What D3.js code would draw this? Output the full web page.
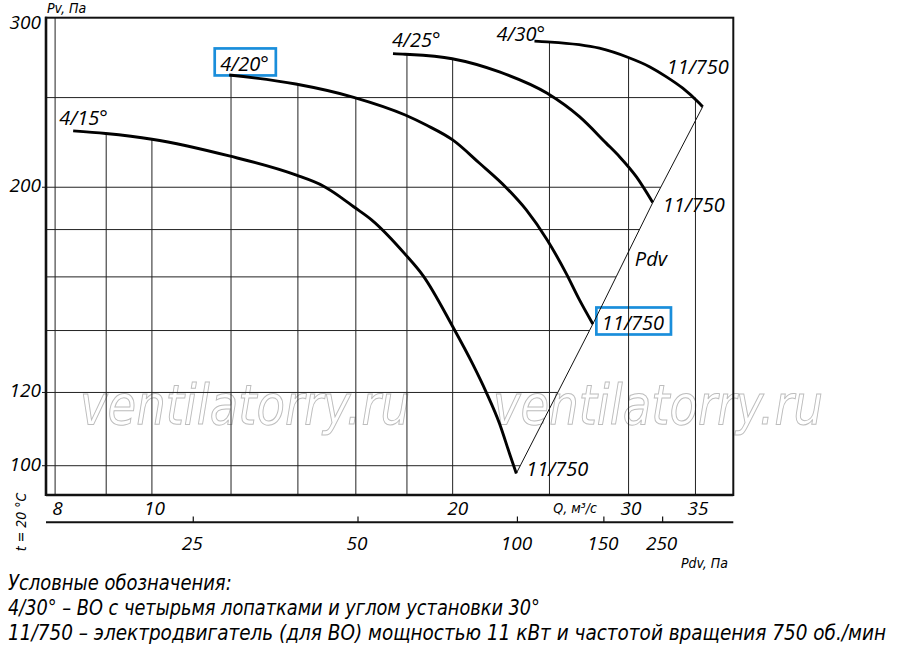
<!DOCTYPE html>
<html><head><meta charset="utf-8">
<script src="https://cdn.jsdelivr.net/npm/d3@7"></script>
<style>body{margin:0;background:#fff}svg{display:block}</style>
</head><body>
<svg id="c" width="900" height="654"></svg>
<script>
// ---------- data ----------
const qTicks = [8, 10, 20, 30, 35];
const qGrid = [8, 9, 10, 12, 14, 16, 18, 20, 25, 30, 35];
const pTicks = [100, 120, 200, 300];
const pGrid = [100, 120, 140, 160, 180, 200, 250];
const pdvTicks = [25, 50, 100, 150, 250];
const pdvAtQ = [11.0, 16.08, 23.22, 28.34, 32.45];
const curveNames = ["4/15°", "4/20°", "4/25°", "4/30°"];
const motorLabel = "11/750";
const curve415 = [[8.34,230.1],[8.99,228.6],[10.0,225.4],[11.95,216.2],[13.93,206.2],[14.84,200.6],[15.42,195.4],[15.92,190.5],[16.59,184.4],[17.95,169.0],[18.68,160.5],[20.0,141.4],[20.96,128.6],[21.6,120.2],[22.28,111.1],[22.8,103.1],[23.16,98.1]];
const curve420 = [[11.95,264.5],[13.93,258.6],[15.92,250.2],[17.93,239.4],[18.82,233.5],[20.0,225.0],[21.28,212.3],[22.63,199.8],[23.7,189.0],[24.87,175.4],[25.98,161.4],[26.79,151.1],[27.63,142.3]];
const curve425 = [[17.43,278.9],[17.92,278.5],[19.98,275.4],[22.28,266.5],[24.87,252.7],[26.79,238.4],[28.49,223.2],[29.38,215.8],[30.55,205.2],[31.72,192.5]];
const curve430 = [[24.15,287.7],[24.87,287.2],[28.05,282.7],[29.94,276.4],[31.48,270.0],[32.71,263.4],[33.99,255.9],[35.32,246.5],[35.59,244.4]];
const legendLines = [
  "Условные обозначения:",
  "4/30° – ВО с четырьмя лопатками и углом установки 30°",
  "11/750 – электродвигатель (для ВО) мощностью 11 кВт и частотой вращения 750 об./мин"
];
const watermark = "ventilatorry.ru";

// ---------- layout ----------
const svg = d3.select("#c");
const X0 = 46, X1 = 733.3, Y0 = 17.7, Y1 = 495;
const x = d3.scaleLog().domain([7.834, 38.19]).range([X0, X1]);
const y = d3.scaleLog().domain([92.97, 305.0]).range([Y1, Y0]);
const pdvScale = d3.scaleLinear().domain(pdvTicks).range(pdvAtQ.map(q => x(q)));
const curves = [curve415, curve420, curve425, curve430];
const F = "'Open Sans', 'DejaVu Sans', sans-serif";
const FN = "'Liberation Sans Narrow', 'DejaVu Sans Condensed', 'Arial Narrow', sans-serif";
const BLUE = "#1a8edb";

function curveY(c, q) {
  if (q < c[0][0] || q > c[c.length - 1][0]) return null;
  for (let i = 1; i < c.length; i++) {
    if (q <= c[i][0]) {
      const [q0, p0] = c[i - 1], [q1, p1] = c[i];
      const t = (Math.log(q) - Math.log(q0)) / (Math.log(q1) - Math.log(q0));
      return y(p0) + (y(p1) - y(p0)) * t;
    }
  }
  return null;
}
const ends = curves.map(c => c[c.length - 1]);
const endPx = ends.map(d => [x(d[0]), y(d[1])]);
function pdvXAt(py) {
  for (let i = 1; i < endPx.length; i++) {
    const [xa, ya] = endPx[i - 1], [xb, yb] = endPx[i];
    if (py <= ya && py >= yb) return xa + (py - ya) * (xb - xa) / (yb - ya);
  }
  const [xa, ya] = endPx[endPx.length - 2], [xb, yb] = endPx[endPx.length - 1];
  return xa + (py - ya) * (xb - xa) / (yb - ya);
}

// ---------- watermark ----------
[80, 493].forEach(wx => {
  svg.append("text").attr("x", wx).attr("y", 424)
    .attr("font-family", FN).attr("font-style", "italic").attr("font-size", 56)
    .attr("fill", "none").attr("stroke", "#bdbdbd").attr("stroke-width", 1)
    .attr("textLength", 330).attr("lengthAdjust", "spacingAndGlyphs")
    .text(watermark);
});

// ---------- grid ----------
const g = svg.append("g").attr("stroke", "#222").attr("stroke-width", 1);
qGrid.forEach(q => {
  const tops = curves.map(c => curveY(c, q)).filter(v => v !== null);
  const top = tops.length ? Math.min(...tops) : Y0;
  g.append("line").attr("x1", x(q)).attr("x2", x(q)).attr("y1", Y1).attr("y2", top);
});
pGrid.forEach(p => {
  const xe = Math.min(pdvXAt(y(p)), x(35));
  g.append("line").attr("x1", X0).attr("x2", xe).attr("y1", y(p)).attr("y2", y(p));
});

// ---------- frame ----------
svg.append("rect").attr("x", X0).attr("y", Y0).attr("width", X1 - X0).attr("height", Y1 - Y0)
  .attr("fill", "none").attr("stroke", "#111").attr("stroke-width", 2);
svg.append("line").attr("x1", X0).attr("x2", X0).attr("y1", Y0 - 1).attr("y2", Y1 + 1)
  .attr("stroke", "#111").attr("stroke-width", 2.6);
svg.append("line").attr("x1", X0).attr("x2", X1).attr("y1", Y1).attr("y2", Y1)
  .attr("stroke", "#111").attr("stroke-width", 2.4);

// y ticks
pTicks.forEach(p => {
  if (p < 300) svg.append("line").attr("x1", X0 - 4).attr("x2", X0).attr("y1", y(p)).attr("y2", y(p)).attr("stroke", "#111");
  svg.append("text").attr("x", 41).attr("y", y(p) + 5).attr("text-anchor", "end")
    .attr("font-family", F).attr("font-style", "italic").attr("font-size", 19).text(p);
});
// x ticks
qTicks.forEach(q => {
  svg.append("text").attr("x", x(q) + (q === 20 ? 5 : 2.5)).attr("y", 515).attr("text-anchor", "middle")
    .attr("font-family", F).attr("font-style", "italic").attr("font-size", 19).text(q);
});

// Pdv axis
svg.append("line").attr("x1", X0).attr("x2", X1).attr("y1", 522.3).attr("y2", 522.3)
  .attr("stroke", "#111").attr("stroke-width", 2);
pdvTicks.forEach(v => {
  const px = pdvScale(v);
  svg.append("line").attr("x1", px).attr("x2", px).attr("y1", 516.5).attr("y2", 522.3).attr("stroke", "#111").attr("stroke-width", 1.2);
  svg.append("text").attr("x", px - 1).attr("y", 550).attr("text-anchor", "middle")
    .attr("font-family", F).attr("font-style", "italic").attr("font-size", 19).text(v);
});

// small axis titles
const small = (t, xx, yy, anchor) => svg.append("text").attr("x", xx).attr("y", yy).attr("text-anchor", anchor || "start")
  .attr("font-family", FN).attr("font-style", "italic").attr("font-size", 14).text(t);
small("Pv, Па", 47, 13);
small("Q, м³/с", 597, 513, "end");
small("Pdv, Па", 728, 568, "end");
svg.append("text").attr("transform", "translate(26,522) rotate(-90)").attr("text-anchor", "middle")
  .attr("font-family", FN).attr("font-style", "italic").attr("font-size", 14).text("t = 20 °C");

// ---------- Pdv line & curves ----------
svg.append("path").attr("d", d3.line()(endPx)).attr("fill", "none").attr("stroke", "#111").attr("stroke-width", 1);
const line = d3.line().x(d => x(d[0])).y(d => y(d[1])).curve(d3.curveMonotoneX);
curves.forEach(c => {
  svg.append("path").attr("d", line(c)).attr("fill", "none").attr("stroke", "#000").attr("stroke-width", 2.9);
});

// ---------- labels ----------
const nameOff = [[-14, -6], [-9, -4], [-1, -6.5], [-38, 0]];
const motorOff = [[10, 3], [9, 6], [10, 9], [-36, -33]];
function label(t, lx, ly, boxed) {
  const el = svg.append("text").attr("x", lx).attr("y", ly)
    .attr("font-family", F).attr("font-style", "italic").attr("font-size", 20).text(t);
  if (boxed) {
    const w = el.node().getComputedTextLength();
    svg.insert("rect", "text").attr("x", lx - 5.5).attr("y", ly - 22.5).attr("width", w + 12.5).attr("height", 27)
      .attr("fill", "none").attr("stroke", BLUE).attr("stroke-width", 2.7);
  }
}
curves.forEach((c, i) => {
  const s = c[0];
  label(curveNames[i], x(s[0]) + nameOff[i][0], y(s[1]) + nameOff[i][1], i === 1);
  const e = c[c.length - 1];
  label(motorLabel, x(e[0]) + motorOff[i][0], y(e[1]) + motorOff[i][1], i === 1);
});
const mid = [(endPx[1][0] + endPx[2][0]) / 2, (endPx[1][1] + endPx[2][1]) / 2];
label("Pdv", mid[0] + 12, mid[1] + 2.5, false);

// ---------- legend ----------
const legTargets = [223.7, 532, 878];
const legY = [590, 615, 640];
legendLines.forEach((t, i) => {
  const el = svg.append("text").attr("x", 8).attr("y", legY[i])
    .attr("font-family", FN).attr("font-style", "italic").attr("font-size", 20.5).text(t);
  const n = el.node().getComputedTextLength();
  const spaces = (t.match(/ /g) || []).length;
  if (n < legTargets[i] && spaces) el.style("word-spacing", ((legTargets[i] - n) / spaces) + "px");
  else el.attr("textLength", legTargets[i]).attr("lengthAdjust", "spacingAndGlyphs");
});
</script>
</body></html>
